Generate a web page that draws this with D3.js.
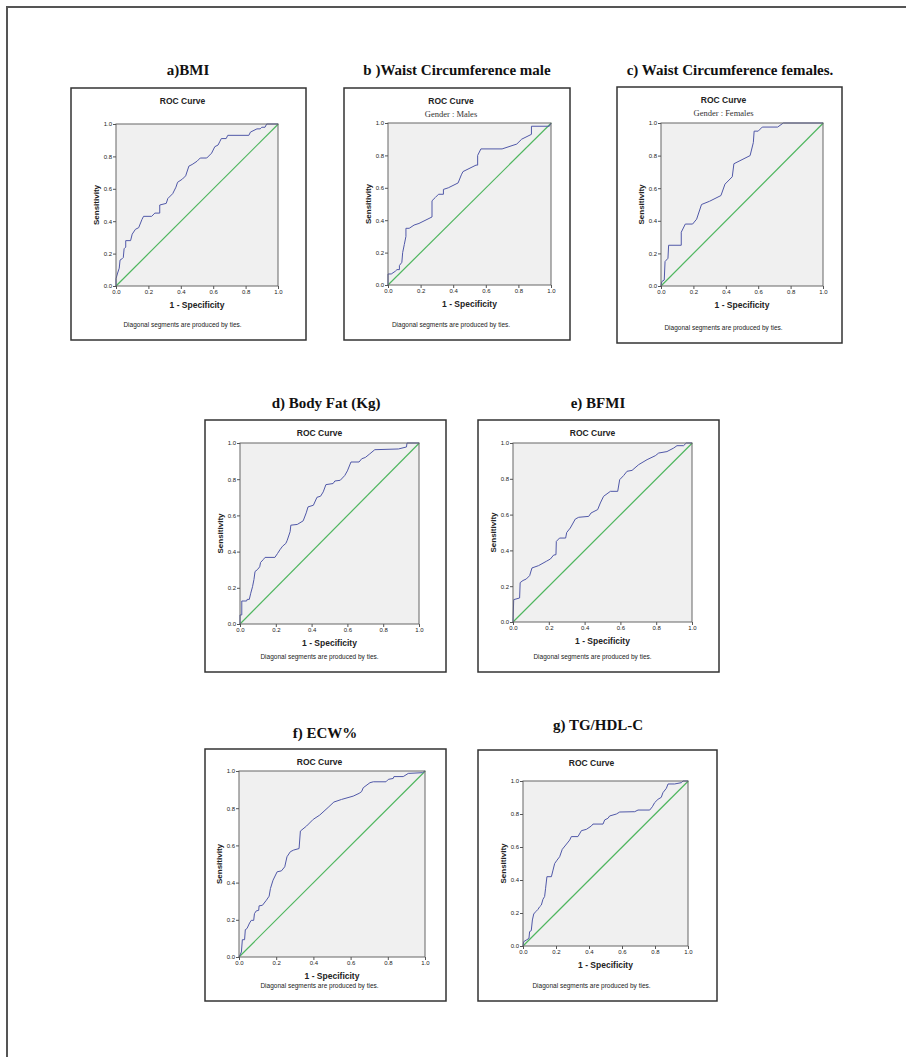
<!DOCTYPE html>
<html>
  <head>
    <meta charset="utf-8" />
    <style>
      body { margin: 0; background: #fff; }
      svg { display: block; }
      text { font-family: "Liberation Sans", Arial, sans-serif; fill: #222; }
      .ptitle { font-family: "Liberation Serif", "Times New Roman", serif; font-weight: bold; font-size: 15px; fill: #111; }
      .sub { font-family: "Liberation Serif", "Times New Roman", serif; font-size: 8.5px; fill: #333; }
    </style>
  </head>
  <body>
    <svg width="906" height="1057"></svg>
    <script src="https://d3js.org/d3.v7.min.js"></script>
    <script>
      // panel headings and chart texts
      var panelTitles = ["a)BMI", "b )Waist Circumference male", "c) Waist Circumference females.",
        "d) Body Fat (Kg)", "e) BFMI", "f) ECW%", "g) TG/HDL-C"];
      var subTitles = [null, "Gender : Males", "Gender : Females", null, null, null, null];
      var tickVals = [0.0, 0.2, 0.4, 0.6, 0.8, 1.0];

      // ROC curves (1 - specificity, sensitivity)
      var bmiFpr = [0, 0, 0.01, 0.02, 0.025, 0.04, 0.045, 0.05, 0.06, 0.06, 0.09, 0.1, 0.12, 0.14, 0.16, 0.17, 0.22, 0.24, 0.27, 0.27, 0.31, 0.32, 0.35, 0.37, 0.38, 0.41, 0.43, 0.45, 0.47, 0.5, 0.52, 0.56, 0.59, 0.61, 0.63, 0.64, 0.65, 0.68, 0.69, 0.82, 0.83, 0.87, 0.89, 0.9, 0.92, 0.93, 1];
      var bmiTpr = [0, 0.045, 0.08, 0.11, 0.16, 0.17, 0.175, 0.23, 0.24, 0.28, 0.28, 0.32, 0.35, 0.36, 0.41, 0.43, 0.43, 0.45, 0.45, 0.5, 0.51, 0.54, 0.57, 0.61, 0.64, 0.66, 0.68, 0.74, 0.75, 0.77, 0.79, 0.79, 0.82, 0.86, 0.87, 0.89, 0.91, 0.91, 0.93, 0.93, 0.95, 0.97, 0.97, 0.98, 0.98, 1, 1];

      var waistMFpr = [0, 0, 0.02, 0.045, 0.055, 0.07, 0.07, 0.085, 0.09, 0.1, 0.11, 0.11, 0.13, 0.16, 0.19, 0.27, 0.27, 0.29, 0.31, 0.34, 0.34, 0.37, 0.43, 0.45, 0.46, 0.54, 0.55, 0.55, 0.57, 0.7, 0.79, 0.82, 0.88, 0.88, 0.99, 1];
      var waistMTpr = [0, 0.068, 0.068, 0.085, 0.095, 0.095, 0.12, 0.14, 0.2, 0.25, 0.3, 0.35, 0.35, 0.37, 0.38, 0.42, 0.52, 0.54, 0.56, 0.56, 0.59, 0.6, 0.63, 0.68, 0.7, 0.74, 0.74, 0.8, 0.84, 0.84, 0.87, 0.9, 0.93, 0.98, 0.98, 1];

      var waistFFpr = [0, 0.005, 0.02, 0.025, 0.043, 0.047, 0.125, 0.125, 0.15, 0.195, 0.22, 0.25, 0.3, 0.37, 0.395, 0.44, 0.45, 0.55, 0.57, 0.575, 0.6, 0.625, 0.72, 0.755, 1];
      var waistFTpr = [0, 0.027, 0.037, 0.15, 0.17, 0.25, 0.25, 0.33, 0.38, 0.38, 0.41, 0.5, 0.52, 0.555, 0.625, 0.67, 0.75, 0.8, 0.88, 0.95, 0.95, 0.975, 0.975, 1, 1];

      var bodyFatFpr = [0, 0, 0.01, 0.01, 0.037, 0.04, 0.052, 0.06, 0.07, 0.078, 0.084, 0.097, 0.11, 0.115, 0.13, 0.14, 0.195, 0.21, 0.223, 0.238, 0.256, 0.264, 0.28, 0.284, 0.32, 0.353, 0.37, 0.38, 0.41, 0.43, 0.45, 0.465, 0.48, 0.52, 0.53, 0.56, 0.585, 0.6, 0.62, 0.665, 0.68, 0.7, 0.725, 0.753, 0.885, 0.93, 0.933, 1];
      var bodyFatTpr = [0, 0.05, 0.05, 0.127, 0.127, 0.136, 0.136, 0.17, 0.206, 0.246, 0.29, 0.3, 0.316, 0.34, 0.356, 0.368, 0.368, 0.39, 0.41, 0.43, 0.445, 0.463, 0.51, 0.546, 0.55, 0.57, 0.614, 0.647, 0.656, 0.7, 0.706, 0.73, 0.77, 0.776, 0.79, 0.794, 0.82, 0.846, 0.895, 0.895, 0.913, 0.92, 0.94, 0.963, 0.967, 0.978, 1, 1];

      var bfmiFpr = [0, 0.004, 0.037, 0.04, 0.056, 0.074, 0.093, 0.106, 0.143, 0.186, 0.209, 0.227, 0.24, 0.242, 0.26, 0.294, 0.3, 0.32, 0.348, 0.367, 0.423, 0.436, 0.473, 0.488, 0.506, 0.544, 0.585, 0.596, 0.618, 0.637, 0.665, 0.702, 0.749, 0.795, 0.814, 0.86, 0.898, 0.916, 0.953, 0.968, 1];
      var bfmiTpr = [0, 0.125, 0.134, 0.22, 0.232, 0.24, 0.259, 0.302, 0.315, 0.339, 0.352, 0.374, 0.376, 0.45, 0.469, 0.469, 0.5, 0.525, 0.575, 0.585, 0.59, 0.609, 0.628, 0.665, 0.702, 0.73, 0.73, 0.795, 0.818, 0.842, 0.847, 0.879, 0.907, 0.929, 0.944, 0.952, 0.972, 0.985, 0.985, 1, 1];

      var ecwFpr = [0, 0.013, 0.018, 0.03, 0.034, 0.043, 0.057, 0.066, 0.079, 0.083, 0.093, 0.106, 0.108, 0.126, 0.147, 0.162, 0.169, 0.183, 0.205, 0.228, 0.246, 0.258, 0.276, 0.294, 0.323, 0.33, 0.363, 0.399, 0.434, 0.479, 0.51, 0.551, 0.614, 0.646, 0.659, 0.668, 0.704, 0.722, 0.79, 0.803, 0.829, 0.833, 0.883, 0.91, 0.987, 1];
      var ecwTpr = [0, 0.027, 0.093, 0.093, 0.147, 0.153, 0.183, 0.197, 0.197, 0.233, 0.248, 0.251, 0.275, 0.278, 0.305, 0.327, 0.368, 0.413, 0.458, 0.463, 0.485, 0.539, 0.566, 0.575, 0.583, 0.677, 0.704, 0.74, 0.763, 0.804, 0.833, 0.847, 0.865, 0.88, 0.889, 0.91, 0.937, 0.942, 0.942, 0.955, 0.96, 0.97, 0.97, 0.987, 0.991, 1];

      var tgHdlFpr = [0, 0.004, 0.02, 0.036, 0.04, 0.05, 0.057, 0.065, 0.077, 0.091, 0.101, 0.111, 0.121, 0.131, 0.137, 0.145, 0.172, 0.182, 0.192, 0.206, 0.222, 0.238, 0.259, 0.283, 0.293, 0.333, 0.354, 0.384, 0.414, 0.424, 0.485, 0.495, 0.515, 0.525, 0.566, 0.586, 0.677, 0.697, 0.768, 0.784, 0.798, 0.818, 0.838, 0.848, 0.869, 0.879, 0.919, 0.96, 0.97, 1];
      var tgHdlTpr = [0, 0.026, 0.036, 0.046, 0.087, 0.093, 0.158, 0.194, 0.208, 0.222, 0.238, 0.248, 0.283, 0.3, 0.35, 0.42, 0.42, 0.46, 0.5, 0.52, 0.541, 0.586, 0.612, 0.642, 0.663, 0.663, 0.699, 0.707, 0.727, 0.739, 0.739, 0.764, 0.774, 0.788, 0.8, 0.812, 0.814, 0.824, 0.824, 0.844, 0.869, 0.889, 0.901, 0.929, 0.956, 0.982, 0.982, 0.99, 1, 1];

      var curves = [
        [bmiFpr, bmiTpr], [waistMFpr, waistMTpr], [waistFFpr, waistFTpr],
        [bodyFatFpr, bodyFatTpr], [bfmiFpr, bfmiTpr], [ecwFpr, ecwTpr], [tgHdlFpr, tgHdlTpr]
      ];

      // page layout: panel box, plot area and title centre (pixels)
      var layout = [
        { box: [71, 88, 306, 340], plot: [116, 124, 278, 286], title: [188, 75] },
        { box: [344, 88, 570, 340], plot: [388, 123, 551, 285], title: [457, 75] },
        { box: [617, 87, 842, 343], plot: [661, 123, 823, 286], title: [730, 75] },
        { box: [205, 420, 446, 672], plot: [240, 443, 419, 624], title: [326, 408] },
        { box: [478, 420, 719, 672], plot: [513, 443, 692, 622], title: [598, 408] },
        { box: [205, 749, 446, 1001], plot: [239, 771, 425, 957], title: [325, 738] },
        { box: [478, 750, 717, 1001], plot: [523, 781, 688, 946], title: [598, 730] }
      ];

      var svg = d3.select("svg");

      // page frame (top and left edges only)
      svg.append("path")
        .attr("d", "M7,1057V7H906")
        .attr("fill", "none")
        .attr("stroke", "#555")
        .attr("stroke-width", 2);

      layout.forEach(function(L, i) {
        var b = L.box, p = L.plot;
        var g = svg.append("g");
        var boxMid = (b[0] + b[2]) / 2 - 6;

        svg.append("text")
          .attr("class", "ptitle")
          .attr("x", L.title[0])
          .attr("y", L.title[1])
          .attr("text-anchor", "middle")
          .text(panelTitles[i]);

        g.append("rect")
          .attr("x", b[0]).attr("y", b[1])
          .attr("width", b[2] - b[0]).attr("height", b[3] - b[1])
          .attr("fill", "#fff")
          .attr("stroke", "#333")
          .attr("stroke-width", 1.5);

        var x = d3.scaleLinear().domain([0, 1]).range([p[0], p[2]]);
        var y = d3.scaleLinear().domain([0, 1]).range([p[3], p[1]]);

        g.append("rect")
          .attr("x", p[0]).attr("y", p[1])
          .attr("width", p[2] - p[0]).attr("height", p[3] - p[1])
          .attr("fill", "#f0f0f0");

        g.append("text")
          .attr("x", boxMid)
          .attr("y", b[1] + 16)
          .attr("text-anchor", "middle")
          .attr("font-size", "8.5px")
          .attr("font-weight", "bold")
          .text("ROC Curve");

        if (subTitles[i]) {
          g.append("text")
            .attr("class", "sub")
            .attr("x", boxMid)
            .attr("y", b[1] + 29)
            .attr("text-anchor", "middle")
            .text(subTitles[i]);
        }

        // reference diagonal
        g.append("path")
          .attr("d", "M" + x(0) + "," + y(0) + "L" + (x(1) + 0.3) + "," + y(1))
          .attr("fill", "none")
          .attr("stroke", "#4fb65f")
          .attr("stroke-width", 1.2);

        var line = d3.line()
          .x(function(d) { return x(d[0]); })
          .y(function(d) { return y(d[1]); });

        var pts = d3.zip(curves[i][0], curves[i][1]);
        g.append("path")
          .datum(pts)
          .attr("d", line)
          .attr("fill", "none")
          .attr("stroke", "#5058a8")
          .attr("stroke-width", 1);

        g.append("rect")
          .attr("x", p[0]).attr("y", p[1])
          .attr("width", p[2] - p[0]).attr("height", p[3] - p[1])
          .attr("fill", "none")
          .attr("stroke", "#666")
          .attr("stroke-width", 1);

        var fmt = d3.format(".1f");
        var ax = g.append("g")
          .attr("transform", "translate(0," + p[3] + ")")
          .call(d3.axisBottom(x).tickValues(tickVals).tickFormat(fmt).tickSize(3).tickPadding(1));
        var ay = g.append("g")
          .attr("transform", "translate(" + p[0] + ",0)")
          .call(d3.axisLeft(y).tickValues(tickVals).tickFormat(fmt).tickSize(3).tickPadding(1));
        [ax, ay].forEach(function(a) {
          a.select(".domain").remove();
          a.selectAll("line").attr("stroke", "#555");
          a.selectAll("text")
            .attr("font-family", "'Liberation Sans', Arial, sans-serif")
            .attr("font-size", "6px")
            .attr("fill", "#333");
        });

        g.append("text")
          .attr("x", (p[0] + p[2]) / 2)
          .attr("y", p[3] + 22)
          .attr("text-anchor", "middle")
          .attr("font-size", "8.5px")
          .attr("font-weight", "bold")
          .text("1 - Specificity");

        g.append("text")
          .attr("transform", "translate(" + (p[0] - 17) + "," + ((p[1] + p[3]) / 2) + ") rotate(-90)")
          .attr("text-anchor", "middle")
          .attr("font-size", "8px")
          .attr("font-weight", "bold")
          .text("Sensitivity");

        g.append("text")
          .attr("x", boxMid)
          .attr("y", b[3] - 13)
          .attr("text-anchor", "middle")
          .attr("font-size", "6.5px")
          .text("Diagonal segments are produced by ties.");
      });
    </script>
  </body>
</html>
